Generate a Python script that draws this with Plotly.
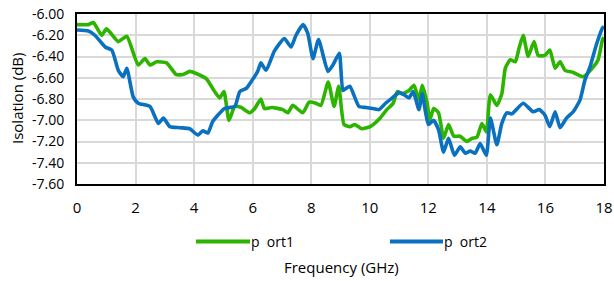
import plotly.graph_objects as go

port1_freq = [0, 0.39, 0.56, 0.84, 1.01, 1.41, 1.70, 2.09, 2.32, 2.49, 2.72, 3.06, 3.39, 3.62, 3.85, 4.07, 4.42, 4.70, 4.87, 5.02, 5.19, 5.39, 5.61, 5.90, 6.07, 6.28, 6.40, 6.66, 7.03, 7.20, 7.37, 7.71, 7.93, 8.16, 8.33, 8.58, 8.78, 8.94, 9.12, 9.32, 9.49, 9.72, 10.01, 10.35, 10.58, 10.80, 10.94, 11.11, 11.34, 11.51, 11.68, 11.79, 11.96, 12.05, 12.18, 12.35, 12.52, 12.69, 12.87, 13.08, 13.32, 13.49, 13.66, 13.83, 13.98, 14.12, 14.34, 14.51, 14.63, 14.80, 14.97, 15.10, 15.24, 15.41, 15.61, 15.75, 15.98, 16.15, 16.33, 16.50, 16.67, 16.95, 17.29, 17.63, 17.80, 17.95, 18.0]
port1_iso = [-6.10, -6.10, -6.08, -6.20, -6.14, -6.26, -6.21, -6.48, -6.42, -6.48, -6.45, -6.46, -6.57, -6.57, -6.54, -6.56, -6.61, -6.73, -6.79, -6.73, -7.00, -6.87, -6.88, -6.93, -6.89, -6.80, -6.89, -6.88, -6.90, -6.93, -6.86, -6.93, -6.83, -6.84, -6.86, -6.64, -6.87, -6.68, -7.04, -7.06, -7.04, -7.08, -7.06, -6.98, -6.90, -6.84, -6.73, -6.75, -6.72, -6.67, -6.81, -6.67, -6.84, -7.00, -6.89, -6.93, -7.17, -7.04, -7.15, -7.15, -7.20, -7.17, -7.16, -7.03, -7.11, -6.76, -6.86, -6.75, -6.51, -6.43, -6.45, -6.32, -6.20, -6.40, -6.26, -6.39, -6.39, -6.34, -6.51, -6.45, -6.53, -6.55, -6.59, -6.50, -6.43, -6.24, -6.22]

port2_freq = [0, 0.39, 0.61, 0.96, 1.19, 1.41, 1.58, 1.70, 1.92, 2.09, 2.49, 2.78, 2.95, 3.17, 3.51, 3.85, 4.13, 4.30, 4.47, 4.64, 5.04, 5.39, 5.56, 5.78, 5.94, 6.17, 6.28, 6.46, 6.74, 7.08, 7.31, 7.48, 7.72, 7.88, 8.06, 8.25, 8.57, 8.74, 8.96, 9.08, 9.19, 9.32, 9.63, 9.87, 10.09, 10.31, 10.54, 10.77, 11.00, 11.17, 11.34, 11.48, 11.68, 11.79, 12.00, 12.18, 12.35, 12.52, 12.69, 12.89, 13.09, 13.26, 13.43, 13.60, 13.77, 13.98, 14.12, 14.34, 14.51, 14.68, 14.85, 15.24, 15.58, 15.79, 15.98, 16.15, 16.33, 16.50, 16.72, 16.95, 17.18, 17.35, 17.52, 17.75, 17.95, 18.0]
port2_iso = [-6.15, -6.16, -6.20, -6.31, -6.34, -6.53, -6.59, -6.51, -6.78, -6.84, -6.87, -7.03, -6.98, -7.06, -7.07, -7.08, -7.14, -7.10, -7.12, -7.01, -6.89, -6.87, -6.73, -6.70, -6.64, -6.54, -6.46, -6.53, -6.35, -6.23, -6.31, -6.20, -6.10, -6.18, -6.42, -6.24, -6.54, -6.48, -6.37, -6.72, -6.70, -6.68, -6.87, -6.88, -6.89, -6.90, -6.84, -6.79, -6.74, -6.76, -6.79, -6.73, -6.90, -6.75, -7.04, -7.00, -7.09, -7.30, -7.17, -7.33, -7.25, -7.31, -7.29, -7.31, -7.22, -7.33, -6.98, -7.23, -7.03, -6.93, -6.94, -6.84, -6.92, -6.90, -6.95, -7.06, -6.92, -7.07, -6.98, -6.92, -6.81, -6.62, -6.50, -6.28, -6.13, -6.12]

series_names = ["p\u00a0\u00a0ort1", "p\u00a0\u00a0ort2"]
colors = ["#2db400", "#0a70c0"]
x_ticks = list(range(0, 19, 2))
y_ticks = [-6.0 - 0.2 * i for i in range(9)]
x_title = "Frequency (GHz)"
y_title = "Isolation (dB)"

FONT = "Open Sans"

fig = go.Figure()
for fx, fy, c in [(port1_freq, port1_iso, colors[0]), (port2_freq, port2_iso, colors[1])]:
    fig.add_trace(go.Scatter(x=fx, y=fy, mode="lines",
                             line=dict(color=c, width=3.6, shape="spline", smoothing=0.5),
                             showlegend=False, hoverinfo="skip"))

# plot area: x 77..604 px, y 14..184 px
PW, PH = 527.0, 170.0
def px_x(p):
    return (p - 77) / PW
def px_y(p):
    return (184 - p) / PH

# manual legend
leg = [(196, 250, colors[0], series_names[0]), (390, 443, colors[1], series_names[1])]
for x0, x1, c, name in leg:
    fig.add_shape(type="line", xref="paper", yref="paper", x0=px_x(x0), x1=px_x(x1),
                  y0=px_y(241.5), y1=px_y(241.5), line=dict(color=c, width=4))
    fig.add_annotation(xref="paper", yref="paper", x=px_x(x1 - 1), y=px_y(241.5), text=name,
                       showarrow=False, xanchor="left", yanchor="middle",
                       font=dict(family=FONT, size=14, color="#000"))

fig.add_annotation(xref="paper", yref="paper", x=px_x(341), y=px_y(267), text=x_title,
                   showarrow=False, xanchor="center", yanchor="middle",
                   font=dict(family=FONT, size=15, color="#000"))
fig.add_annotation(xref="paper", yref="paper", x=px_x(17), y=px_y(99), text=y_title,
                   showarrow=False, xanchor="center", yanchor="middle", textangle=-90,
                   font=dict(family=FONT, size=15, color="#000"))

fig.update_layout(
    width=614, height=281,
    margin=dict(l=77, r=10, t=14, b=97, autoexpand=False),
    paper_bgcolor="white", plot_bgcolor="white",
    font=dict(family=FONT, size=14, color="#000"),
    xaxis=dict(range=[0, 18], tickvals=x_ticks, ticktext=[str(v) for v in x_ticks],
               showgrid=True, gridcolor="#d9d9d9", gridwidth=2,
               showline=True, linecolor="#000", linewidth=2, mirror=True,
               ticks="", zeroline=False, automargin=False, ticklabelstandoff=9,
               tickfont=dict(family=FONT, size=15)),
    yaxis=dict(range=[-7.6, -6.0], tickvals=y_ticks, ticktext=[f"{v:.2f}" for v in y_ticks],
               showgrid=True, gridcolor="#d9d9d9", gridwidth=2,
               showline=True, linecolor="#000", linewidth=2, mirror=True,
               ticks="", zeroline=False, automargin=False, ticklabelstandoff=8,
               tickfont=dict(family=FONT, size=14)),
)

fig.write_html("out.html", config={"displayModeBar": False},
               post_script="document.body.style.margin='0';document.body.style.padding='0';")
